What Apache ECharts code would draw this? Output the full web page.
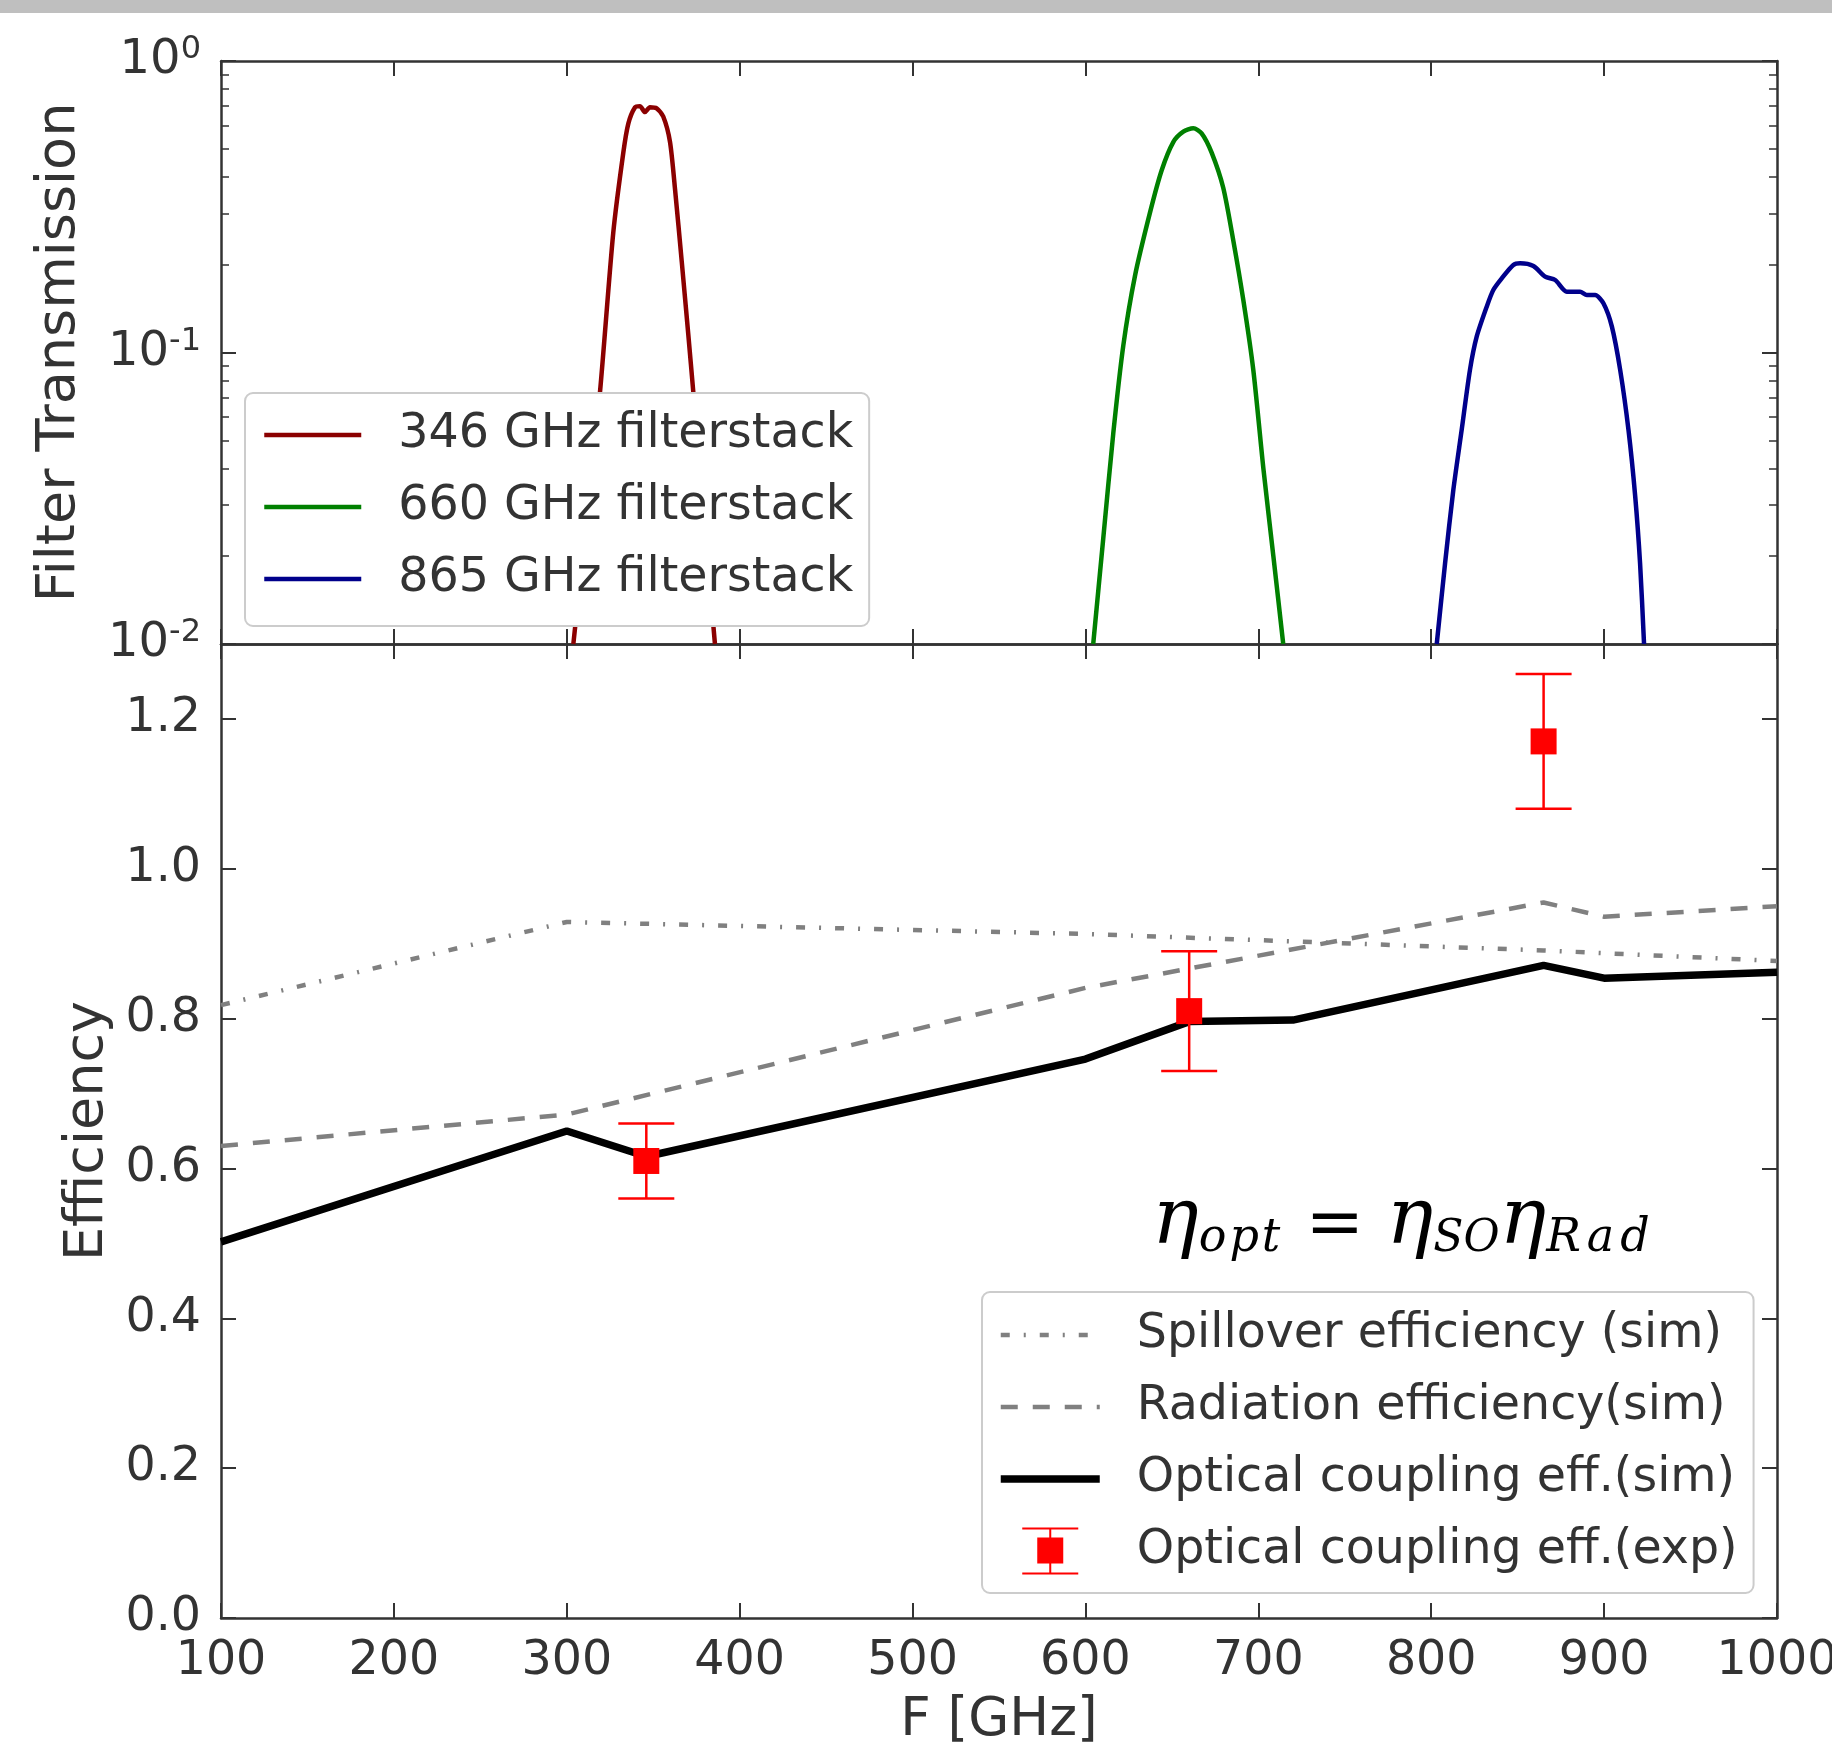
<!DOCTYPE html>
<html><head><meta charset="utf-8">
<script src="https://cdn.jsdelivr.net/npm/echarts@6/dist/echarts.min.js"></script>
<style>html,body{margin:0;padding:0;background:#fff}#c{width:1832px;height:1749px}</style>
</head><body><div id="c"></div>
<script>
// ---------- data ----------
const xTickValues = [100, 200, 300, 400, 500, 600, 700, 800, 900, 1000];

// Filter transmission (GHz, transmission)
const filter346 = [[303.8,0.01],[311.5,0.027],[319.2,0.073],[326.9,0.258],[332.7,0.485],[335.6,0.61],[339.5,0.694],[342.3,0.70],[345.2,0.668],[348.1,0.694],[352.0,0.688],[355.8,0.645],[359.7,0.528],[362.6,0.364],[366.5,0.205],[370.3,0.115],[373.2,0.073],[379.4,0.027],[385.7,0.01]];
const filter660 = [[604.5,0.01],[610.3,0.023],[616.1,0.0528],[621.9,0.1057],[628.7,0.1838],[637.4,0.303],[644.1,0.422],[650.8,0.527],[656.6,0.572],[662.4,0.588],[667.2,0.565],[673.0,0.485],[679.7,0.3675],[685.5,0.2426],[691.3,0.1515],[697.1,0.087],[702.9,0.0401],[708.7,0.020],[714.4,0.01]];
const filter865 = [[803.2,0.01],[808.0,0.0189],[812.8,0.0338],[817.6,0.0542],[822.4,0.0871],[826.3,0.1133],[832.1,0.1436],[835.9,0.1638],[840.8,0.1796],[847.5,0.1996],[851.4,0.2023],[859.1,0.198],[865.9,0.182],[871.7,0.1773],[878.4,0.1617],[886.1,0.1617],[890.0,0.1575],[894.8,0.1575],[899.6,0.1475],[904.5,0.1227],[909.3,0.0871],[914.1,0.0542],[918.0,0.032],[920.8,0.0189],[923.1,0.01]];

// Efficiencies
const spillFreq = [100, 300, 600, 865, 1000];
const spillEff  = [0.818, 0.929, 0.913, 0.891, 0.877];
const radFreq = [100, 300, 600, 865, 900, 1000];
const radEff  = [0.630, 0.672, 0.841, 0.955, 0.936, 0.950];
const optFreq = [100, 300, 346, 600, 660, 720, 865, 900, 1000];
const optEff  = [0.502, 0.650, 0.616, 0.746, 0.796, 0.798, 0.871, 0.854, 0.862];
const expFreq = [346, 660, 865];
const expEff  = [0.61, 0.81, 1.17];
const expErr  = [0.05, 0.08, 0.09];

// ---------- chart ----------
const FONT = 'DejaVu Sans';
const AX = '#333333';
const pairs = (xs, ys) => xs.map((x, i) => [x, ys[i]]);
const expData = expFreq.map((f, i) => [f, expEff[i], expEff[i] - expErr[i], expEff[i] + expErr[i]]);

function xAxisBase(grid, pos, labels) {
  return {
    type: 'value', gridIndex: grid, position: pos, min: 100, max: 1000, interval: 100,
    axisLine: { show: true, onZero: false, lineStyle: { color: AX, width: 2.5 } },
    axisTick: { show: true, inside: true, length: 15, lineStyle: { color: AX, width: 2 } },
    axisLabel: { show: labels, fontSize: 47.5, color: AX, margin: 20, fontFamily: FONT,
      formatter: v => String(v) },
    splitLine: { show: false }
  };
}
function logAxis(pos, labels) {
  return {
    type: 'log', logBase: 10, gridIndex: 0, position: pos, min: 0.01, max: 1,
    axisLine: { show: true, onZero: false, lineStyle: { color: AX, width: 2.5 } },
    axisTick: { show: true, inside: true, length: 15, lineStyle: { color: AX, width: 2 } },
    minorTick: { show: true, splitNumber: 9, length: 8, lineStyle: { color: AX, width: 1.5 } },
    axisLabel: {
      show: labels, margin: 20, color: AX, fontFamily: FONT,
      formatter: v => '{b|10}{s|' + Math.round(Math.log10(v)) + '}',
      rich: {
        b: { fontSize: 48, lineHeight: 54, color: AX, fontFamily: FONT },
        s: { fontSize: 32, lineHeight: 30, verticalAlign: 'top', color: AX, fontFamily: FONT }
      }
    },
    splitLine: { show: false }, minorSplitLine: { show: false }
  };
}
function effAxis(pos, labels) {
  return {
    type: 'value', gridIndex: 1, position: pos, min: 0, max: 1.3, interval: 0.2,
    axisLine: { show: true, onZero: false, lineStyle: { color: AX, width: 2.5 } },
    axisTick: { show: true, inside: true, length: 15, lineStyle: { color: AX, width: 2 } },
    axisLabel: { show: labels, fontSize: 47.5, color: AX, margin: 20, fontFamily: FONT,
      showMaxLabel: false, formatter: v => v.toFixed(1) },
    splitLine: { show: false }
  };
}

const xAx = [xAxisBase(0, 'bottom', false), xAxisBase(0, 'top', false), xAxisBase(1, 'bottom', true), xAxisBase(1, 'top', false)];
xAx[2].name = 'F [GHz]';
xAx[2].nameLocation = 'middle';
xAx[2].nameGap = 77;
xAx[2].nameTextStyle = { fontSize: 53, color: AX, fontFamily: FONT };

const yAx = [logAxis('left', true), logAxis('right', false), effAxis('left', true), effAxis('right', false)];
yAx[0].name = 'Filter Transmission';
yAx[0].nameLocation = 'middle';
yAx[0].nameGap = 134;
yAx[0].nameTextStyle = { fontSize: 54, color: AX, fontFamily: FONT };
yAx[2].name = 'Efficiency';
yAx[2].nameLocation = 'middle';
yAx[2].nameGap = 105;
yAx[2].nameTextStyle = { fontSize: 54, color: AX, fontFamily: FONT };

const errIcon = 'path://M0,0H56V2H0Z M27,2H29V45H27Z M15,10H41V36H15Z M0,45H56V47H0Z';
const hideSym = { opacity: 0 };

const option = {
  animation: false,
  backgroundColor: '#ffffff',
  textStyle: { fontFamily: FONT },
  grid: [
    { left: 221, top: 61, width: 1556, height: 583, outerBoundsMode: 'none', containLabel: false },
    { left: 221, top: 644, width: 1556, height: 974, outerBoundsMode: 'none', containLabel: false }
  ],
  xAxis: xAx,
  yAxis: yAx,
  legend: [
    {
      orient: 'vertical', left: 245, top: 393,
      data: [
        { name: '346 GHz filterstack', itemStyle: hideSym, lineStyle: { width: 4.5 } },
        { name: '660 GHz filterstack', itemStyle: hideSym, lineStyle: { width: 4.5 } },
        { name: '865 GHz filterstack', itemStyle: hideSym, lineStyle: { width: 4.5 } }
      ],
      itemWidth: 97, itemHeight: 14, itemGap: 22,
      textStyle: { fontSize: 47.5, color: AX, fontFamily: FONT, lineHeight: 50, padding: [0, 0, 0, 32] },
      backgroundColor: '#ffffff', borderColor: '#cccccc', borderWidth: 2, borderRadius: 8,
      padding: [17, 16, 22, 17]
    },
    {
      orient: 'vertical', left: 982, top: 1292,
      data: [
        { name: 'Spillover efficiency (sim)', itemStyle: hideSym, lineStyle: { width: 4.5 } },
        { name: 'Radiation efficiency(sim)', itemStyle: hideSym, lineStyle: { width: 4.5 } },
        { name: 'Optical coupling eff.(sim)', itemStyle: hideSym, lineStyle: { width: 7.5 } },
        { name: 'Optical coupling eff.(exp)', icon: errIcon }
      ],
      itemWidth: 99, itemHeight: 47, itemGap: 22,
      textStyle: { fontSize: 47.5, color: AX, fontFamily: FONT, lineHeight: 50, padding: [0, 0, 0, 32] },
      backgroundColor: '#ffffff', borderColor: '#cccccc', borderWidth: 2, borderRadius: 8,
      padding: [18, 16, 17, 15]
    }
  ],
  graphic: [
    { type: 'rect', left: 0, top: 0, shape: { width: 1832, height: 13 }, style: { fill: '#bfbfbf' }, silent: true },
    {
      type: 'text', left: 1152, top: 1184, silent: true,
      style: {
        text: '{e|η}{a|o}{a|p}{a|t}{m| = }{e|η}{c|S}{c|O}{e|η}{b|R}{b|a}{b|d}',
        rich: {
          e: { fontSize: 78, fontStyle: 'italic', fontFamily: 'DejaVu Serif', lineHeight: 80, verticalAlign: 'bottom', fill: '#000' },
          a: { fontSize: 46, fontStyle: 'italic', fontFamily: 'DejaVu Serif', lineHeight: 50, verticalAlign: 'bottom', fill: '#000', padding: [0, 3, 0, 0] },
          b: { fontSize: 46, fontStyle: 'italic', fontFamily: 'DejaVu Serif', lineHeight: 50, verticalAlign: 'bottom', fill: '#000', padding: [0, 6, 0, 0] },
          c: { fontSize: 44, fontStyle: 'italic', fontFamily: 'DejaVu Serif', lineHeight: 50, verticalAlign: 'bottom', fill: '#000' },
          m: { fontSize: 70, fontFamily: 'DejaVu Serif', lineHeight: 80, verticalAlign: 'bottom', fill: '#000' }
        }
      }
    }
  ],
  series: [
    { name: '346 GHz filterstack', type: 'line', xAxisIndex: 0, yAxisIndex: 0, data: filter346,
      symbol: 'none', smooth: 0.25, color: '#8B0000', lineStyle: { color: '#8B0000', width: 4.5 } },
    { name: '660 GHz filterstack', type: 'line', xAxisIndex: 0, yAxisIndex: 0, data: filter660,
      symbol: 'none', smooth: 0.25, color: '#008000', lineStyle: { color: '#008000', width: 4.5 } },
    { name: '865 GHz filterstack', type: 'line', xAxisIndex: 0, yAxisIndex: 0, data: filter865,
      symbol: 'none', smooth: 0.25, color: '#00008B', lineStyle: { color: '#00008B', width: 4.5 } },
    { name: 'Spillover efficiency (sim)', type: 'line', xAxisIndex: 2, yAxisIndex: 2, data: pairs(spillFreq, spillEff),
      symbol: 'none', color: '#808080', lineStyle: { color: '#808080', width: 4.5, type: [9, 14, 2, 14], cap: 'butt' } },
    { name: 'Radiation efficiency(sim)', type: 'line', xAxisIndex: 2, yAxisIndex: 2, data: pairs(radFreq, radEff),
      symbol: 'none', color: '#808080', lineStyle: { color: '#808080', width: 4.5, type: [17, 15], cap: 'butt' } },
    { name: 'Optical coupling eff.(sim)', type: 'line', xAxisIndex: 2, yAxisIndex: 2, data: pairs(optFreq, optEff),
      symbol: 'none', color: '#000000', lineStyle: { color: '#000000', width: 7.5 } },
    { name: 'Optical coupling eff.(exp)', type: 'custom', coordinateSystem: 'cartesian2d', xAxisIndex: 2, yAxisIndex: 2,
      color: '#ff0000', data: expData, encode: { x: 0, y: [1, 2, 3] }, z: 5,
      renderItem: function (params, api) {
        const c = api.coord([api.value(0), api.value(1)]);
        const lo = api.coord([api.value(0), api.value(2)]);
        const hi = api.coord([api.value(0), api.value(3)]);
        const st = { stroke: '#ff0000', lineWidth: 2.5 };
        return { type: 'group', children: [
          { type: 'line', shape: { x1: c[0], y1: hi[1], x2: c[0], y2: lo[1] }, style: st },
          { type: 'line', shape: { x1: c[0] - 28, y1: hi[1], x2: c[0] + 28, y2: hi[1] }, style: st },
          { type: 'line', shape: { x1: c[0] - 28, y1: lo[1], x2: c[0] + 28, y2: lo[1] }, style: st },
          { type: 'rect', shape: { x: c[0] - 13, y: c[1] - 13, width: 26, height: 26 }, style: { fill: '#ff0000' } }
        ] };
      }
    }
  ]
};
const chart = echarts.init(document.getElementById('c'), null, { renderer: 'canvas' });
chart.setOption(option);
</script></body></html>
